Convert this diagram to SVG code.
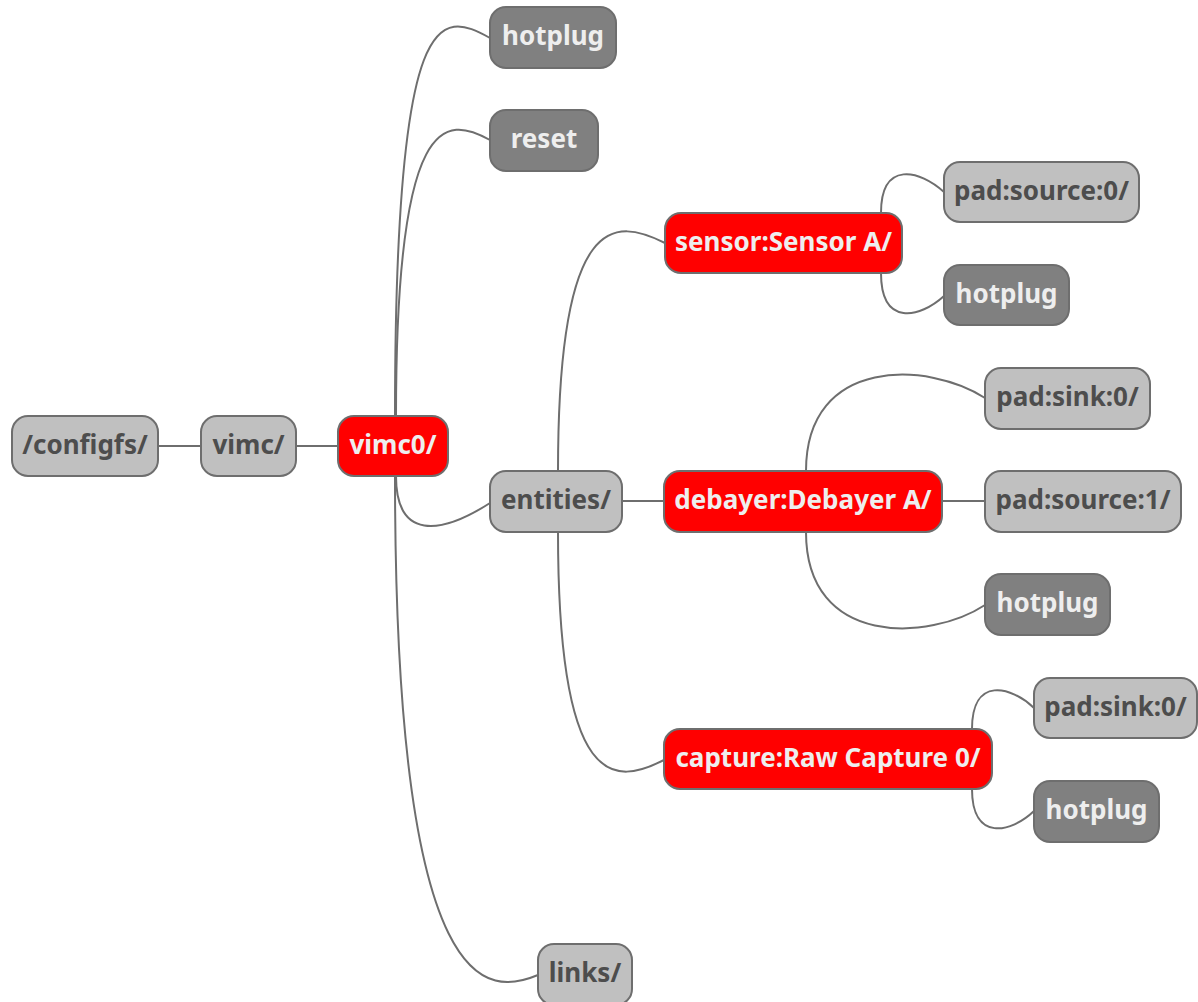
<svg xmlns="http://www.w3.org/2000/svg" width="1198" height="1002" viewBox="0 0 1198 1002">
<style>
.c{fill:none;stroke:#6e6e6e;stroke-width:2}
.n rect{stroke:#6e6e6e;stroke-width:2}
.l rect{fill:#c0c0c0}
.d rect{fill:#808080}
.r rect{fill:#ff0000}
text{font-family:"Noto Sans","Open Sans","DejaVu Sans",sans-serif;font-weight:bold;font-size:26px;text-anchor:middle}
.l text{fill:#4d4d4d}
.d text,.r text{fill:#eeeeee}
</style>
<g id="connectors">
<path class="c" d="M158,446 L201,446"/>
<path class="c" d="M296,446 L338,446"/>
<path class="c" d="M395,416 C395,0 440,10 490,38"/>
<path class="c" d="M396,416 C396,112 445,115 490,140"/>
<path class="c" d="M396,476 C396,540 440,535 490,503"/>
<path class="c" d="M395,476 C395,1010 490,995 538,975"/>
<path class="c" d="M558,471 C558,210 615,218 665,243"/>
<path class="c" d="M622,501 L664,501"/>
<path class="c" d="M558,532 C558,793 615,785 664,760"/>
<path class="c" d="M881,213 C881,160 920,170 944,192"/>
<path class="c" d="M881,273 C881,327 920,318 944,296"/>
<path class="c" d="M806,471 C806,355 930,362 985,398"/>
<path class="c" d="M942,501 L985,501"/>
<path class="c" d="M806,532 C806,648 930,641 985,605"/>
<path class="c" d="M972,729 C972,676 1011,686 1034,708"/>
<path class="c" d="M972,789 C972,842 1011,833 1034,811"/>
</g>
<g id="configfs" class="n l"><rect x="12" y="416" width="146" height="60" rx="16"/><text x="85" y="454">/configfs/</text></g>
<g id="vimc" class="n l"><rect x="201" y="416" width="95" height="60" rx="16"/><text x="248.5" y="454">vimc/</text></g>
<g id="vimc0" class="n r"><rect x="338" y="416" width="110" height="60" rx="16"/><text x="393" y="454">vimc0/</text></g>
<g id="hotplug_vimc0" class="n d"><rect x="490" y="7" width="126" height="61" rx="16"/><text x="553" y="45">hotplug</text></g>
<g id="reset" class="n d"><rect x="490" y="110" width="108" height="61" rx="16"/><text x="544" y="148">reset</text></g>
<g id="entities" class="n l"><rect x="490" y="471" width="132" height="61" rx="16"/><text x="556" y="509">entities/</text></g>
<g id="links" class="n l"><rect x="538" y="944" width="94" height="61" rx="16"/><text x="585" y="982">links/</text></g>
<g id="sensor" class="n r"><rect x="665" y="213" width="237" height="60" rx="16"/><text x="783.5" y="251">sensor:Sensor A/</text></g>
<g id="sensor_pad_source0" class="n l"><rect x="944" y="162" width="195" height="60" rx="16"/><text x="1041.5" y="200">pad:source:0/</text></g>
<g id="sensor_hotplug" class="n d"><rect x="944" y="265" width="125" height="60" rx="16"/><text x="1006.5" y="303">hotplug</text></g>
<g id="debayer" class="n r"><rect x="664" y="471" width="278" height="61" rx="16"/><text x="803" y="509">debayer:Debayer A/</text></g>
<g id="debayer_pad_sink0" class="n l"><rect x="985" y="368" width="165" height="61" rx="16"/><text x="1067.5" y="406">pad:sink:0/</text></g>
<g id="debayer_pad_source1" class="n l"><rect x="985" y="471" width="196" height="61" rx="16"/><text x="1083" y="509">pad:source:1/</text></g>
<g id="debayer_hotplug" class="n d"><rect x="985" y="574" width="125" height="61" rx="16"/><text x="1047.5" y="612">hotplug</text></g>
<g id="capture" class="n r"><rect x="664" y="729" width="328" height="60" rx="16"/><text x="828" y="767">capture:Raw Capture 0/</text></g>
<g id="capture_pad_sink0" class="n l"><rect x="1034" y="678" width="163" height="60" rx="16"/><text x="1115.5" y="716">pad:sink:0/</text></g>
<g id="capture_hotplug" class="n d"><rect x="1034" y="781" width="125" height="61" rx="16"/><text x="1096.5" y="819">hotplug</text></g>
</svg>
